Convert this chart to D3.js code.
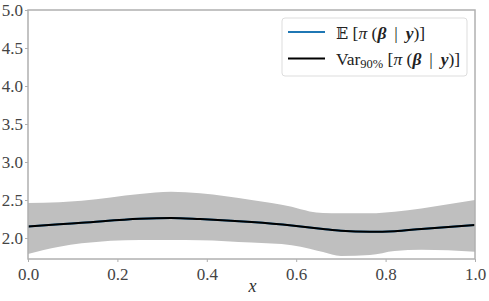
<!DOCTYPE html>
<html>
<head>
<meta charset="utf-8">
<script src="https://cdn.jsdelivr.net/npm/d3@7"></script>
<style>
  body { margin: 0; background: #fff; }
  svg { display: block; }
</style>
</head>
<body>
<script>
// data
var xs        = [0.0, 0.07, 0.12, 0.25, 0.32, 0.385, 0.5, 0.59, 0.63, 0.66, 0.70, 0.765, 0.82, 0.88, 1.0];
var meanVals  = [2.15, 2.18, 2.20, 2.255, 2.265, 2.25, 2.21, 2.165, 2.14, 2.12, 2.095, 2.083, 2.09, 2.12, 2.17];
var upperVals = [2.46, 2.47, 2.49, 2.58, 2.61, 2.59, 2.50, 2.41, 2.35, 2.33, 2.325, 2.325, 2.345, 2.39, 2.50];
var lowerVals = [1.79, 1.885, 1.93, 1.975, 1.975, 1.972, 1.94, 1.905, 1.86, 1.815, 1.765, 1.776, 1.83, 1.845, 1.82];
var xTicks = [0.0, 0.2, 0.4, 0.6, 0.8, 1.0];
var yTicks = [2.0, 2.5, 3.0, 3.5, 4.0, 4.5, 5.0];

var serif = "'Liberation Serif', 'DejaVu Serif', serif";

var W = 489, H = 301;
var margin = {left: 28, right: 14, top: 10, bottom: 42};
var width = W - margin.left - margin.right;
var height = H - margin.top - margin.bottom;

var svg = d3.select("body").append("svg")
    .attr("width", W)
    .attr("height", H);
var g = svg.append("g")
    .attr("transform", "translate(" + margin.left + "," + margin.top + ")");

var xScale = d3.scaleLinear().domain([0, 1]).range([0, width]);
var yScale = d3.scaleLinear().domain([1.724, 5.0]).range([height, 0]);

var pts = xs.map(function (x, i) {
    return {x: x, m: meanVals[i], lo: lowerVals[i], hi: upperVals[i]};
});

// band
var area = d3.area()
    .x(function (d) { return xScale(d.x); })
    .y0(function (d) { return yScale(d.lo); })
    .y1(function (d) { return yScale(d.hi); })
    .curve(d3.curveMonotoneX);
g.append("path")
    .datum(pts)
    .attr("d", area)
    .attr("fill", "#bfbfbf");

var line = d3.line()
    .x(function (d) { return xScale(d.x); })
    .y(function (d) { return yScale(d.m); })
    .curve(d3.curveMonotoneX);
// mean line (blue) hidden under the black one
g.append("path").datum(pts).attr("d", line)
    .attr("fill", "none").attr("stroke", "#1f77b4").attr("stroke-width", 2);
g.append("path").datum(pts).attr("d", line)
    .attr("fill", "none").attr("stroke", "#000").attr("stroke-width", 2);

// axes
var xAxis = g.append("g")
    .attr("transform", "translate(0," + height + ")")
    .call(d3.axisBottom(xScale).tickValues(xTicks).tickFormat(d3.format(".1f")).tickSize(3).tickPadding(4));
var yAxis = g.append("g")
    .call(d3.axisLeft(yScale).tickValues(yTicks).tickFormat(d3.format(".1f")).tickSize(3).tickPadding(2));
[xAxis, yAxis].forEach(function (a) {
    a.attr("font-family", null).attr("font-size", null);
    a.select(".domain").remove();
    a.selectAll(".tick line").attr("stroke", "#999").attr("stroke-width", 0.8);
    a.selectAll(".tick text")
        .style("font-family", serif)
        .style("font-size", "17px")
        .style("fill", "#444");
});
xAxis.selectAll(".tick text").attr("dy", "0.85em");

// frame
g.append("rect")
    .attr("width", width).attr("height", height)
    .attr("fill", "none").attr("stroke", "#b0b0b0").attr("stroke-width", 1.5);

// x label
g.append("text")
    .attr("x", width / 2 + 1).attr("y", height + 33)
    .attr("text-anchor", "middle")
    .style("font-family", serif)
    .style("font-style", "italic")
    .style("font-size", "18px")
    .style("fill", "#333")
    .text("x");

// legend
var leg = svg.append("g");
leg.append("rect")
    .attr("x", 282).attr("y", 18).attr("width", 185).attr("height", 58)
    .attr("rx", 3)
    .attr("fill", "#fff").attr("fill-opacity", 0.8)
    .attr("stroke", "#ddd").attr("stroke-width", 1);

var legColors = ["#1f77b4", "#000"];
var legY = [32, 58.5];
legColors.forEach(function (c, i) {
    leg.append("line")
        .attr("x1", 288).attr("x2", 325)
        .attr("y1", legY[i]).attr("y2", legY[i])
        .attr("stroke", c).attr("stroke-width", 2);
});

function mathText(parent, x, y, isVar) {
    var t = parent.append("text")
        .attr("x", x).attr("y", y)
        .style("font-family", serif)
        .style("font-size", "17.5px")
        .style("fill", "#222");
    if (isVar) {
        t.append("tspan").text("Var");
        t.append("tspan").attr("dy", 3).style("font-size", "12.5px").text("90%");
        t.append("tspan").attr("dy", -3).text(" [");
    } else {
        t.append("tspan").style("font-family", "'DejaVu Serif', serif").style("font-size", "16px").text("\u{1D53C}");
        t.append("tspan").text(" [");
    }
    t.append("tspan").style("font-style", "italic").text("\u03C0");
    t.append("tspan").text(" (");
    t.append("tspan").style("font-style", "italic").style("font-weight", "bold").text("\u03B2");
    t.append("tspan").text(" \u2009|\u2009 ");
    t.append("tspan").style("font-style", "italic").style("font-weight", "bold").text("y");
    t.append("tspan").text(")]");
}
mathText(leg, 336, 38.5, false);
mathText(leg, 336, 65, true);
</script>
</body>
</html>
